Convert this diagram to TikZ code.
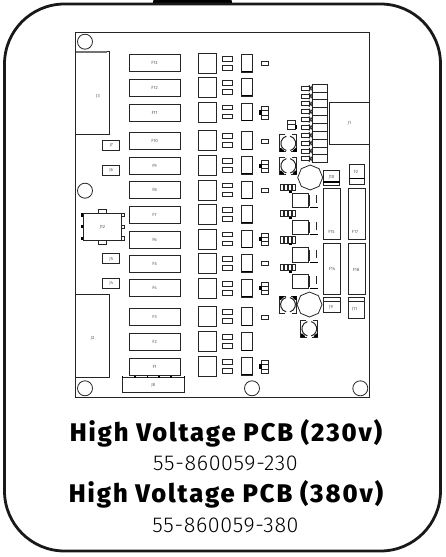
\documentclass[tikz,border=0pt]{standalone}
\usepackage{fontspec}
\setmainfont{Fira Sans}
\newfontfamily\thinfont[LetterSpace=3]{Fira Sans Light}
\newfontfamily\heavyfont[LetterSpace=7.5]{Fira Sans ExtraBold}
\usetikzlibrary{positioning,shapes.geometric}
\definecolor{partgray}{gray}{0.15}
\tikzset{
	partline/.style={draw=partgray,line width=0.8pt},
	darkline/.style={draw=black,line width=1.1pt},
	boxlabel/.style={font=\fontsize{4.5}{4.5}\selectfont,text=black!65,inner sep=0pt},
	fusebox/.style={partline,line width=1pt,minimum width=51pt,minimum height=17pt,inner sep=0pt,font=\fontsize{4.5}{4.5}\selectfont,text=black!65},
	relaybox/.style={partline,line width=1pt,minimum width=17.8pt,minimum height=20pt,inner sep=0pt},
	padbox/.style={partline,minimum width=10.5pt,minimum height=4.6pt,inner sep=0pt},
	tallbox/.style={partline,minimum width=10.4pt,minimum height=17.7pt,inner sep=0pt},
	hole/.style={circle,partline,minimum size=15pt,inner sep=0pt},
	jumper/.style={partline,line width=1pt,minimum width=17.5pt,minimum height=10pt,inner sep=0pt,font=\fontsize{4.5}{4.5}\selectfont,text=black!65},
	octa/.style={regular polygon,regular polygon sides=8,shape border rotate=22.5,partline,minimum size=25pt,inner sep=0pt},
	titletext/.style={font=\fontsize{25.5}{25.5}\heavyfont,inner sep=0pt},
	codetext/.style={font=\fontsize{21.5}{21.5}\thinfont,inner sep=0pt},
}
\begin{document}
\begin{tikzpicture}[x=1pt,y=-1pt]
	\useasboundingbox (0,0) rectangle (445,557);
	%% outer frame
	\shade[left color=black,middle color=black!45,right color=black] (153.3,0) rectangle (231.7,3);
	\draw[line width=2.8pt,draw=black!90,rounded corners=60pt] (4.5,4) rectangle (440.5,551);
	%% board
	\draw[partline] (75.5,32.5) rectangle (369.7,397);
	\node[hole] (h1) at (85,41.7) {};
	\node[hole] (h2) at (85,190.7) {};
	\node[hole] (h3) at (85,388.3) {};
	\node[hole] (h4) at (252,388.3) {};
	\node[hole] (h5) at (360.3,388.3) {};
	% left connectors
	\draw[partline] (75.7,51.7) rectangle (109.7,134.3);
	\draw[draw=black!55,line width=1.2pt] (75.7,51.9) -- (106.5,51.9);
	\node[boxlabel] (j3) at (98,96) {J3};
	\draw[partline] (75.7,294.3) rectangle (109.7,377);
	\node[boxlabel] (j2) at (92.5,338) {J2};
	% jumpers
	\node[jumper] (j7) at (111.2,145.4) {J7};
	\node[jumper] (j6) at (111.2,170.2) {J6};
	\node[jumper] (j5) at (111.2,258.9) {J5};
	\node[jumper] (j4) at (111.2,283.3) {J4};
	% ic
	\foreach \py in {215,226.7,238.3}{
		\fill[black] (80.8,\py-1.6) rectangle (83.5,\py+1.6);
		\draw[partline] (121.3,\py-1.6) rectangle (124.7,\py+1.6);
	}
	\node[partline,line width=1pt,fill=white,minimum width=38pt,minimum height=26.3pt,inner sep=0pt,font=\fontsize{4.5}{4.5}\selectfont,text=black!65] (u1) at (102.3,226.9) {J12};
	\draw[partline] (98.3,209.3) rectangle (106.7,213.7);
	\draw[partline] (98.3,240) rectangle (106.7,244.6);
	% fuses
	\foreach \fy/\fname in {63.2/F13,88/F12,112.5/F11,140.8/F10,165.6/F9,189.7/F8,214.7/F7,239.5/F6,264/F5,288.3/F4,316.7/F3,342/F2,366.7/F1}{
		\node[fusebox] (\fname) at (154.6,\fy) {\fname};
	}
	% bottom connector
	\node[partline,line width=1pt,minimum width=62pt,minimum height=14.6pt,inner sep=0pt,font=\fontsize{4.5}{4.5}\selectfont,text=black!65] (j8) at (153.3,385) {J8};
	\foreach \tx in {122.3,135,147.3,159,171,184.3}{
		\fill[black] (\tx-0.7,376.3) rectangle (\tx+0.7,378);
	}
	% relay rows
	\foreach \ry [count=\ri] in {53.3,77.3,102,130.7,155.3,180,204.3,229,253.3,278.3,306.7,331.7,356.3}{
		\node[relaybox] (r\ri) at (207.2,\ry+10) {};
		\node[padbox] (pa\ri) at (227.4,\ry+5.3) {};
		\node[padbox] (pb\ri) at (227.4,\ry+14.3) {};
		\node[tallbox] (t\ri) at (246.9,\ry+9.8) {};
		\draw[darkline] (241.7,\ry+18.6) -- (252.1,\ry+18.6);
	}
	% small parts
	\foreach \sy in {63.2,141,190,263.7,317}{
		\draw[partline] (261.3,\sy-1.9) rectangle (268.7,\sy+1.9);
	}
	\foreach \sy in {106.7,160,233,282,360.7}{
		\draw[partline] (261.3,\sy) rectangle (268.7,\sy+4);
		\draw[partline] (261.3,\sy+4) rectangle (268.7,\sy+8.2);
		\draw[partline] (261.3,\sy+8.2) rectangle (268.7,\sy+12.4);
		\fill[black] (259,\sy+3.6) rectangle (261.6,\sy+8);
	}
	\draw[partline] (287.3,120) rectangle (295,124.5);
	\draw[partline] (287.3,124.5) rectangle (295,129);
	\fill[black] (295,125) rectangle (296.8,128.5);
	% header with pins
	\foreach \cy in {0,...,9}{
		\draw[partline,line width=1pt] (312.7,84.3+7.84*\cy) rectangle (327.5,92.14+7.84*\cy);
		\draw[partline] (301.7,86.2+7.84*\cy) rectangle (309,90.2+7.84*\cy);
		\draw[partline] (309,85+7.84*\cy) -- (312.7,91.4+7.84*\cy) (309,91.4+7.84*\cy) -- (312.7,85+7.84*\cy);
	}
	\node[partline,line width=1pt,minimum width=40.2pt,minimum height=41.6pt,inner sep=0pt,font=\fontsize{4.5}{4.5}\selectfont,text=black!65] (j1) at (349.4,123.5) {J1};
	% inductors
	\foreach \lx/\ly/\lr in {288.3/143.3/0,288.3/165.8/0,288/304.7/180,309.3/328.7/0}{
		\begin{scope}[shift={(\lx,\ly)},rotate=\lr]
			\draw[partline] (-3.5,-8.5) -- (-8.5,-8.5) -- (-8.5,8.5) -- (-2.5,8.5);
			\draw[partline] (3.5,-8.5) -- (8.5,-8.5) -- (8.5,8.5) -- (2.5,8.5);
			\fill[black] (-8.5,8.5) -- (-4.5,8.5) -- (-4.5,7.2) -- (-7.2,4.8) -- (-8.5,4.8) -- cycle;
			\fill[black] (8.5,8.5) -- (4.5,8.5) -- (4.5,7.2) -- (7.2,4.8) -- (8.5,4.8) -- cycle;
			\draw[partline,line width=1pt] ([shift={(105:7.4)}]0,0) arc (105:255:7.4);
			\draw[partline,line width=1pt] ([shift={(75:7.4)}]0,0) arc (75:-75:7.4);
		\end{scope}
	}
	% octagons
	\node[octa] (oct1) at (310.2,177.5) {};
	\node[octa] (oct2) at (309.5,304.5) {};
	% transistors
	\foreach \ty in {184,210,236.7,264}{
		\foreach \tx in {280,284,288,292}{
			\draw[partline] (\tx,\ty) rectangle (\tx+3.8,\ty+6.7);
		}
		\fill[black] (289,\ty+6.7) rectangle (292,\ty+8.6);
	}
	\foreach \qy in {193.3,220,247.7,274.3}{
		\draw[partline,line width=1pt] (292.7,\qy) rectangle (308.3,\qy+14.5);
		\draw[partline] (309.6,\qy+2) -- (309.6,\qy+13) (316.7,\qy+2) -- (316.7,\qy+10);
		\draw[darkline] (309.6,\qy+14.5) -- (318,\qy+14.5);
	}
	% right column
	\node[partline,line width=1pt,minimum width=17pt,minimum height=51pt,inner sep=0pt] (F15) at (331.8,213.8) {};
	\node[partline,line width=1pt,minimum width=17pt,minimum height=51pt,inner sep=0pt] (F14) at (331.8,268.8) {};
	\node[partline,line width=1pt,minimum width=17pt,minimum height=51pt,inner sep=0pt] (F17) at (357,213.8) {};
	\node[partline,line width=1pt,minimum width=17pt,minimum height=51pt,inner sep=0pt] (F18) at (357,268.8) {};
	\node[boxlabel] (lf15) at (331.5,232) {F15};
	\node[boxlabel] (lf14) at (332,269) {F14};
	\node[boxlabel] (lf17) at (355,232) {F17};
	\node[boxlabel] (lf18) at (356,270) {F18};
	\draw[partline] (323.3,170.7) rectangle (339.7,185);
	\draw[darkline] (323.3,182) -- (339.7,182);
	\node[boxlabel] (j10) at (331.5,177) {J10};
	\draw[partline] (349.3,164) rectangle (364.5,184.3);
	\draw[darkline] (349.3,178.3) -- (364.5,178.3);
	\node[boxlabel] (j12) at (356,171.5) {F2};
	\draw[partline] (323.3,297.7) rectangle (340,312.3);
	\draw[partline] (323.3,301) -- (340,301);
	\node[boxlabel] (j9) at (331,307) {J9};
	\draw[partline] (348.3,297.7) rectangle (364,318.3);
	\draw[partline] (348.3,301) -- (364,301);
	\node[boxlabel] (j11) at (354.5,309) {J11};
	%% texts
	\node[titletext] (title1) at (226,433) {High Voltage PCB (230v)};
	\node[codetext] (code1) at (225.5,463) {55-860059-230};
	\node[titletext] (title2) at (226,494.5) {High Voltage PCB (380v)};
	\node[codetext] (code2) at (225.5,525) {55-860059-380};
\end{tikzpicture}
\end{document}
